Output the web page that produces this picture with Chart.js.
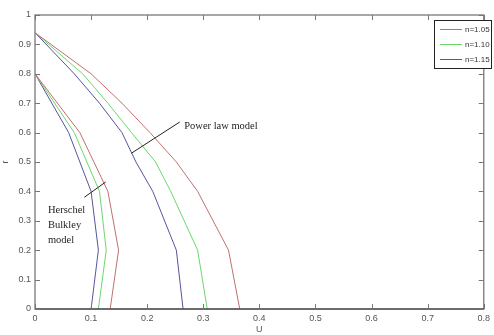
<!DOCTYPE html>
<html><head><meta charset="utf-8">
<script src="https://cdn.jsdelivr.net/npm/chart.js@4/dist/chart.umd.min.js"></script>
<style>html,body{margin:0;padding:0;background:#fff;}#wrap{width:494px;height:335px;}</style>
</head><body><div id="wrap"><canvas id="c" width="494" height="335"></canvas></div>
<script>
const seriesNames = ['n=1.05', 'n=1.10', 'n=1.15'];
const colors = ['#c07070', '#6cd86c', '#55559a'];
// Power law model: r values and U values per n
const plR = [0.94, 0.8, 0.7, 0.6, 0.5, 0.4, 0.2, 0];
const plU105 = [0, 0.10, 0.155, 0.205, 0.252, 0.29, 0.345, 0.365];
const plU110 = [0, 0.085, 0.13, 0.172, 0.215, 0.242, 0.29, 0.307];
const plU115 = [0, 0.07, 0.115, 0.155, 0.18, 0.21, 0.252, 0.264];
// Herschel Bulkley model
const hbR = [0.8, 0.6, 0.4, 0.2, 0];
const hbU105 = [0, 0.08, 0.13, 0.149, 0.134];
const hbU110 = [0, 0.07, 0.115, 0.127, 0.113];
const hbU115 = [0, 0.06, 0.1, 0.113, 0.1];
const xTicks = [0, 0.1, 0.2, 0.3, 0.4, 0.5, 0.6, 0.7, 0.8];
const yTicks = [0, 0.1, 0.2, 0.3, 0.4, 0.5, 0.6, 0.7, 0.8, 0.9, 1];

function pts(us, rs){ return us.map((u,i)=>({x:u, y:rs[i]})); }
const plSets = [plU105, plU110, plU115];
const hbSets = [hbU105, hbU110, hbU115];
const datasets = [];
for (let i=0;i<3;i++){
  datasets.push({label: seriesNames[i], data: pts(plSets[i], plR), borderColor: colors[i], borderWidth: 1, showLine: true, pointRadius: 0, fill:false});
}
for (let i=0;i<3;i++){
  datasets.push({label: seriesNames[i]+' HB', data: pts(hbSets[i], hbR), borderColor: colors[i], borderWidth: 1, showLine: true, pointRadius: 0, fill:false});
}

const decor = {
  id: 'decor',
  afterDatasetsDraw(chart){
    const ctx = chart.ctx, a = chart.chartArea, xs = chart.scales.x, ys = chart.scales.y;
    ctx.save();
    // frame
    ctx.strokeStyle = '#8a8a8a'; ctx.lineWidth = 1.5;
    ctx.strokeRect(a.left, a.top, a.right - a.left, a.bottom - a.top);
    ctx.strokeStyle = '#333'; ctx.lineWidth = 1.2;
    ctx.beginPath(); ctx.moveTo(a.left, a.bottom); ctx.lineTo(a.right, a.bottom); ctx.stroke();
    // inner ticks
    ctx.strokeStyle = '#777'; ctx.lineWidth = 1;
    ctx.beginPath();
    xTicks.forEach(v=>{ const p = Math.round(xs.getPixelForValue(v))+0.5;
      ctx.moveTo(p, a.bottom); ctx.lineTo(p, a.bottom-5);
      ctx.moveTo(p, a.top); ctx.lineTo(p, a.top+5); });
    yTicks.forEach(v=>{ const p = Math.round(ys.getPixelForValue(v))+0.5;
      ctx.moveTo(a.left, p); ctx.lineTo(a.left+5, p);
      ctx.moveTo(a.right, p); ctx.lineTo(a.right-5, p); });
    ctx.stroke();
    // annotations
    ctx.strokeStyle = '#222'; ctx.lineWidth = 1;
    ctx.beginPath();
    ctx.moveTo(xs.getPixelForValue(0.172), ys.getPixelForValue(0.53));
    ctx.lineTo(xs.getPixelForValue(0.258), ys.getPixelForValue(0.636));
    ctx.moveTo(xs.getPixelForValue(0.088), ys.getPixelForValue(0.38));
    ctx.lineTo(xs.getPixelForValue(0.126), ys.getPixelForValue(0.432));
    ctx.stroke();
    ctx.fillStyle = '#222';
    ctx.font = '10.5px "Liberation Serif", "DejaVu Serif", serif';
    ctx.textBaseline = 'middle'; ctx.textAlign = 'left';
    ctx.fillText('Power law model', xs.getPixelForValue(0.266), ys.getPixelForValue(0.62));
    ctx.fillText('Herschel', xs.getPixelForValue(0.023), ys.getPixelForValue(0.335));
    ctx.fillText('Bulkley', xs.getPixelForValue(0.023), ys.getPixelForValue(0.285));
    ctx.fillText('model', xs.getPixelForValue(0.023), ys.getPixelForValue(0.233));
    // legend box
    const lx = 434, ly = 20, lw = 57, lh = 48;
    ctx.fillStyle = '#fff'; ctx.fillRect(lx, ly, lw, lh);
    ctx.strokeStyle = '#222'; ctx.lineWidth = 1;
    ctx.strokeRect(lx+0.5, ly+0.5, lw, lh);
    ctx.font = '8px "Liberation Sans", sans-serif';
    ctx.textAlign = 'left';
    for (let i=0;i<3;i++){
      const yy = ly + 9 + i*15;
      ctx.strokeStyle = colors[i]; ctx.lineWidth = 1;
      ctx.beginPath(); ctx.moveTo(lx+6, yy+0.5); ctx.lineTo(lx+28, yy+0.5); ctx.stroke();
      ctx.fillStyle = '#333';
      ctx.fillText(seriesNames[i], lx+31, yy+1);
    }
    ctx.restore();
  }
};

new Chart(document.getElementById('c'), {
  type: 'scatter',
  data: { datasets },
  options: {
    responsive: false, animation: false,
    layout: { padding: { top: 15, right: 1, left: 0, bottom: 0 } },
    plugins: { legend: { display: false }, tooltip: { enabled: false } },
    scales: {
      x: {
        type: 'linear', min: 0, max: 0.8,
        afterBuildTicks: s => { s.ticks = xTicks.map(v=>({value:v})); },
        afterFit: s => { s.height = 26; },
        grid: { display: false, drawTicks: false },
        border: { display: false },
        ticks: { padding: 4, color: '#555', font: { size: 9, family: '"Liberation Sans Narrow", "Liberation Sans", sans-serif' }, maxRotation: 0,
          callback: v => String(Math.round(v*10)/10) },
        title: { display: true, text: 'U', color: '#555', padding: {top: 0, bottom: 0}, font: { size: 9, family: '"Liberation Sans Narrow", "Liberation Sans", sans-serif' } }
      },
      y: {
        type: 'linear', min: 0, max: 1,
        afterBuildTicks: s => { s.ticks = yTicks.map(v=>({value:v})); },
        afterFit: s => { s.width = 35; },
        grid: { display: false, drawTicks: false },
        border: { display: false },
        ticks: { padding: 4, color: '#555', font: { size: 9, family: '"Liberation Sans Narrow", "Liberation Sans", sans-serif' },
          callback: v => String(Math.round(v*10)/10) },
        title: { display: true, text: 'r', color: '#555', padding: {top: 0, bottom: 0}, font: { size: 9, family: '"Liberation Sans Narrow", "Liberation Sans", sans-serif' } }
      }
    }
  },
  plugins: [decor]
});
</script>
</body></html>
